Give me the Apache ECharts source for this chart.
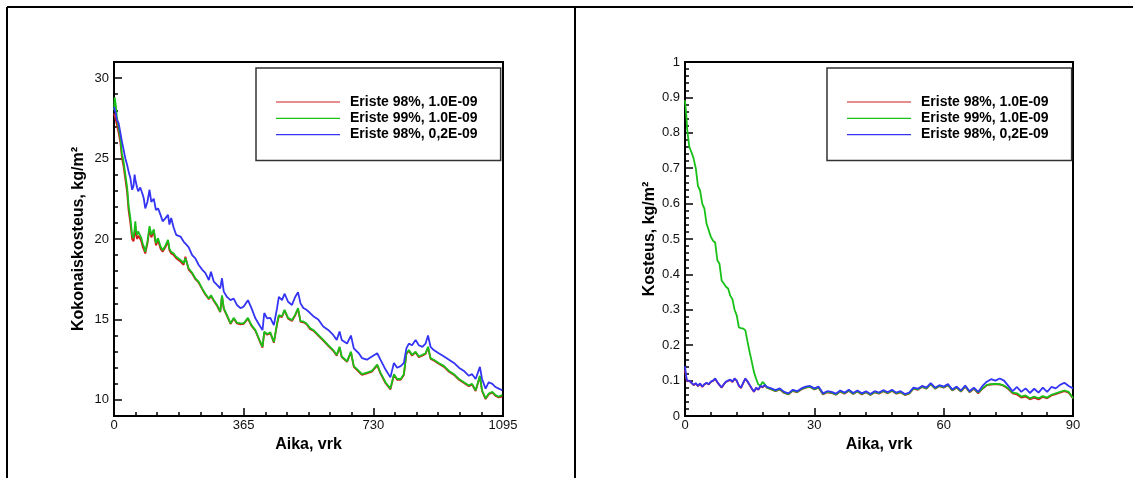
<!DOCTYPE html>
<html>
<head>
<meta charset="utf-8">
<script src="https://cdn.jsdelivr.net/npm/echarts@6/dist/echarts.min.js"></script>
<style>
  html, body { margin: 0; padding: 0; background: #fff; }
  #chart { width: 1133px; height: 478px; }
</style>
</head>
<body>
<div id="chart"></div>
<script>
// ---------------- data ----------------
const seriesNames = ['Eriste 98%, 1.0E-09', 'Eriste 99%, 1.0E-09', 'Eriste 98%, 0,2E-09'];

const leftDays = [0,2,5,8,13,18,22,27,32,37,41,46,51,55,58,60,62,65,68,74,77,81,84,88,94,100,105,112,118,124,131,137,145,152,156,161,168,175,187,196,201,210,220,229,238,248,257,267,273,281,290,299,304,309,318,328,337,346,356,365,377,387,398,412,418,423,431,440,450,459,464,473,480,490,501,510,518,525,533,542,552,561,575,589,603,617,627,635,641,656,667,675,689,698,712,726,741,750,764,778,788,797,807,816,823,830,839,849,858,868,877,884,891,900,914,929,943,957,971,985,999,1008,1018,1030,1036,1046,1055,1065,1074,1083,1093];

const leftBlue = [28.2,28.05,27.8,27.4,27.2,26.6,26.1,25.55,25.0,24.6,24.2,23.8,23.06,23.3,24.0,23.7,23.5,23.2,22.96,23.2,23.0,22.75,22.5,21.9,22.3,23.06,22.3,22.5,21.8,21.9,21.5,21.1,21.3,21.5,20.9,21.3,20.7,20.26,20.15,19.84,19.9,19.5,19.0,18.8,18.4,18.1,17.9,17.45,17.97,17.35,17.15,16.93,17.56,16.73,16.4,16.2,16.3,15.9,15.7,15.8,16.2,15.7,15.07,14.55,14.34,15.4,15.07,15.1,14.65,15.7,16.4,16.2,16.6,16.1,15.9,16.4,16.7,16.0,15.71,15.6,15.4,15.2,15.0,14.56,14.35,14.04,13.73,14.25,13.73,13.5,14.0,13.2,12.9,12.6,12.5,12.7,12.9,12.5,11.9,11.4,12.3,12.0,12.1,12.3,13.2,13.5,13.4,13.73,13.4,13.3,13.5,14.0,13.3,13.1,12.9,12.7,12.5,12.3,12.0,11.8,11.5,11.6,11.3,12.05,11.3,10.7,11.1,11.0,10.8,10.7,10.6];

const leftGreen = [28.0,28.8,28.3,27.6,26.9,26.3,25.35,24.8,24.0,23.2,22.1,21.3,20.26,20.05,20.6,21.1,20.6,20.26,20.47,20.2,20.05,19.7,19.53,19.2,19.84,20.8,20.26,20.6,19.74,20.05,19.53,19.3,19.6,19.95,19.4,19.2,19.1,18.9,18.7,18.5,18.8,18.18,17.9,17.56,17.35,16.93,16.6,16.3,16.5,16.2,15.9,15.48,16.5,15.7,15.27,14.76,15.1,14.8,14.76,14.76,15.1,14.65,14.34,13.6,13.3,14.24,14.1,14.2,13.6,14.76,15.27,15.2,15.6,15.1,14.96,15.3,15.7,14.9,14.88,14.75,14.46,14.35,14.04,13.73,13.4,13.1,12.8,13.3,12.7,12.4,13.0,12.1,11.8,11.6,11.7,11.8,12.2,11.7,11.1,10.7,11.6,11.3,11.3,11.6,12.9,13.1,12.8,13.0,12.7,12.8,12.9,13.3,12.6,12.5,12.3,12.1,11.8,11.6,11.3,11.1,10.9,11.0,10.6,11.5,10.6,10.1,10.4,10.5,10.3,10.2,10.3];

const leftRed = [27.8,27.7,27.4,27.1,26.6,26.0,25.1,24.5,23.7,22.9,21.8,21.0,20.0,19.85,20.3,20.8,20.3,20.0,20.2,20.0,19.85,19.5,19.35,19.1,19.7,20.6,20.1,20.45,19.6,19.9,19.4,19.2,19.5,19.85,19.3,19.1,19.0,18.8,18.6,18.4,18.9,18.1,17.85,17.5,17.3,16.9,16.55,16.25,16.45,16.15,15.85,15.45,16.45,15.65,15.22,14.72,15.05,14.75,14.7,14.72,15.05,14.6,14.3,13.55,13.25,14.2,14.05,14.15,13.55,14.7,15.2,15.15,15.55,15.05,14.9,15.25,15.65,14.85,14.82,14.7,14.4,14.3,14.0,13.68,13.36,13.05,12.75,13.25,12.66,12.36,12.95,12.05,11.75,11.55,11.65,11.75,12.15,11.65,11.05,10.65,11.55,11.25,11.25,11.55,12.85,13.05,12.75,12.95,12.65,12.75,12.85,13.25,12.55,12.45,12.25,12.05,11.75,11.55,11.25,11.05,10.85,10.95,10.55,11.45,10.55,10.05,10.35,10.45,10.25,10.15,10.2];

const rightDays = [0,0.3,0.5,1,1.5,2,2.5,3,3.5,4,4.5,5,5.5,6,6.5,7,7.5,8,8.5,9,9.5,10,10.5,11,11.5,12,12.5,13,13.5,14,14.5,15,15.5,16,16.5,17,17.5,18,18.5,19,20,21,22,23,24,25,26,27,28,29,30,31,32,33,34,35,36,37,38,39,40,41,42,43,44,45,46,47,48,49,50,51,52,53,54,55,56,57,58,59,60,61,62,63,64,65,66,67,68,69,70,71,72,73,74,75,76,77,78,79,80,81,82,83,84,85,86,87,88,89,90];

const rightBlue = [0.14,0.11,0.10,0.10,0.094,0.088,0.093,0.085,0.092,0.083,0.09,0.094,0.09,0.097,0.10,0.106,0.096,0.088,0.081,0.09,0.097,0.10,0.103,0.097,0.106,0.10,0.086,0.08,0.094,0.106,0.098,0.088,0.078,0.069,0.08,0.075,0.085,0.082,0.088,0.082,0.078,0.073,0.078,0.068,0.064,0.074,0.07,0.078,0.083,0.085,0.078,0.083,0.064,0.07,0.068,0.063,0.072,0.066,0.074,0.065,0.072,0.064,0.07,0.062,0.07,0.066,0.073,0.067,0.074,0.066,0.07,0.062,0.066,0.08,0.077,0.085,0.08,0.093,0.08,0.087,0.083,0.09,0.075,0.083,0.072,0.086,0.07,0.08,0.068,0.085,0.097,0.104,0.10,0.106,0.10,0.085,0.07,0.082,0.068,0.078,0.065,0.077,0.066,0.08,0.068,0.082,0.078,0.088,0.094,0.085,0.078];

const rightGreen = [0.892,0.85,0.81,0.76,0.745,0.727,0.70,0.65,0.637,0.60,0.586,0.543,0.525,0.506,0.495,0.49,0.44,0.43,0.383,0.374,0.365,0.36,0.34,0.33,0.30,0.284,0.25,0.248,0.247,0.242,0.21,0.18,0.153,0.124,0.105,0.089,0.086,0.096,0.09,0.08,0.076,0.071,0.076,0.066,0.062,0.072,0.068,0.076,0.081,0.083,0.076,0.081,0.062,0.068,0.066,0.061,0.07,0.064,0.072,0.063,0.07,0.062,0.068,0.06,0.068,0.064,0.071,0.065,0.072,0.064,0.068,0.06,0.064,0.078,0.075,0.083,0.078,0.091,0.078,0.085,0.081,0.088,0.073,0.081,0.07,0.084,0.068,0.078,0.066,0.078,0.088,0.09,0.091,0.09,0.086,0.078,0.066,0.064,0.055,0.058,0.05,0.055,0.05,0.056,0.052,0.06,0.064,0.068,0.072,0.068,0.05];

const rightRed = [0.13,0.105,0.098,0.099,0.093,0.087,0.092,0.084,0.091,0.082,0.089,0.093,0.089,0.096,0.099,0.105,0.095,0.087,0.08,0.089,0.096,0.099,0.102,0.096,0.105,0.099,0.085,0.079,0.093,0.105,0.097,0.087,0.077,0.068,0.079,0.074,0.084,0.081,0.087,0.08,0.075,0.07,0.075,0.065,0.061,0.071,0.067,0.075,0.08,0.082,0.075,0.08,0.061,0.067,0.065,0.06,0.069,0.063,0.071,0.062,0.069,0.061,0.067,0.059,0.067,0.063,0.07,0.064,0.071,0.063,0.067,0.059,0.063,0.077,0.074,0.082,0.077,0.09,0.077,0.084,0.08,0.087,0.072,0.08,0.069,0.083,0.067,0.077,0.064,0.077,0.087,0.089,0.09,0.089,0.085,0.076,0.064,0.061,0.052,0.055,0.047,0.052,0.047,0.054,0.05,0.058,0.062,0.066,0.07,0.066,0.05];

const leftYMajor = [10, 15, 20, 25, 30];
const colors = ['#d21c1c', '#18c018', '#3434f4'];

// ---------------- chart ----------------
const FONT = 'Liberation Sans, Arial, Helvetica, sans-serif';
const chart = echarts.init(document.getElementById('chart'), null, { renderer: 'canvas' });

function pairs(xs, ys) { return xs.map((x, i) => [x, ys[i]]); }

const tickLine = { color: '#000', width: 1.5 };
const axisLineStyle = { show: true, lineStyle: { color: '#000', width: 2 } };
const labelStyle = { color: '#111', fontSize: 13, fontFamily: FONT, formatter: v => String(v) };
const nameStyle = { color: '#000', fontSize: 16, fontWeight: 'bold', fontFamily: FONT };

function legendAt(left) {
  return {
    left: left, top: 68,
    orient: 'vertical',
    data: seriesNames,
    icon: 'rect',
    itemWidth: 64, itemHeight: 1.2, itemGap: 2.3,
    padding: [27, 23, 19, 20],
    backgroundColor: '#fff',
    borderColor: '#333', borderWidth: 1.5,
    textStyle: { color: '#000', fontSize: 14, fontWeight: 'bold', fontFamily: FONT, lineHeight: 14, padding: [0, 0, 0, 5] },
    selectedMode: false
  };
}

const option = {
  animation: false,
  backgroundColor: '#fff',
  color: colors,
  graphic: [
    { type: 'line', shape: { x1: 7, y1: 7, x2: 1133, y2: 7 }, style: { stroke: '#000', lineWidth: 2 } },
    { type: 'line', shape: { x1: 7, y1: 7, x2: 7, y2: 478 }, style: { stroke: '#000', lineWidth: 2 } },
    { type: 'line', shape: { x1: 575, y1: 7, x2: 575, y2: 478 }, style: { stroke: '#000', lineWidth: 2 } }
  ],
  legend: [legendAt(256), legendAt(827)],
  grid: [
    { left: 114, top: 62, width: 389, height: 354, show: true, borderColor: '#000', borderWidth: 2, backgroundColor: 'transparent' },
    { left: 685, top: 62, width: 388, height: 354, show: true, borderColor: '#000', borderWidth: 2, backgroundColor: 'transparent' }
  ],
  xAxis: [
    {
      gridIndex: 0, type: 'value', min: 0, max: 1095, interval: 365,
      axisLine: axisLineStyle,
      axisTick: { inside: true, length: 8, lineStyle: tickLine },
      minorTick: { show: true, splitNumber: 6, length: 4, lineStyle: tickLine },
      splitLine: { show: false }, minorSplitLine: { show: false },
      axisLabel: Object.assign({ margin: 3 }, labelStyle),
      name: 'Aika, vrk', nameLocation: 'middle', nameGap: 15, nameTextStyle: nameStyle
    },
    {
      gridIndex: 1, type: 'value', min: 0, max: 90, interval: 30,
      axisLine: axisLineStyle,
      axisTick: { inside: true, length: 8, lineStyle: tickLine },
      minorTick: { show: true, splitNumber: 5, length: 4, lineStyle: tickLine },
      splitLine: { show: false }, minorSplitLine: { show: false },
      axisLabel: Object.assign({ margin: 3 }, labelStyle),
      name: 'Aika, vrk', nameLocation: 'middle', nameGap: 15, nameTextStyle: nameStyle
    }
  ],
  yAxis: [
    {
      gridIndex: 0, type: 'value', position: 'left', min: 9, max: 31,
      axisLine: axisLineStyle,
      axisTick: { inside: true, length: 8, lineStyle: tickLine, customValues: leftYMajor },
      axisLabel: Object.assign({ margin: 5, customValues: leftYMajor }, labelStyle),
      splitLine: { show: false },
      name: 'Kokonaiskosteus, kg/m²', nameLocation: 'middle', nameGap: 27, nameTextStyle: nameStyle
    },
    {
      gridIndex: 0, type: 'value', position: 'left', offset: 0, min: 9, max: 31, interval: 1,
      axisLine: { show: false },
      axisTick: { inside: true, length: 4, lineStyle: tickLine },
      axisLabel: { show: false },
      splitLine: { show: false }
    },
    {
      gridIndex: 1, type: 'value', position: 'left', min: 0, max: 1, interval: 0.1,
      axisLine: axisLineStyle,
      axisTick: { inside: true, length: 8, lineStyle: tickLine },
      minorTick: { show: true, splitNumber: 5, length: 4, lineStyle: tickLine },
      splitLine: { show: false }, minorSplitLine: { show: false },
      axisLabel: Object.assign({ margin: 5 }, labelStyle),
      name: 'Kosteus, kg/m²', nameLocation: 'middle', nameGap: 27, nameTextStyle: nameStyle
    }
  ],
  series: [
    { name: seriesNames[0], type: 'line', xAxisIndex: 0, yAxisIndex: 0, data: pairs(leftDays, leftRed), showSymbol: false, symbol: 'none', lineStyle: { width: 1.8, color: colors[0] }, itemStyle: { color: colors[0] }, z: 2 },
    { name: seriesNames[1], type: 'line', xAxisIndex: 0, yAxisIndex: 0, data: pairs(leftDays, leftGreen), showSymbol: false, symbol: 'none', lineStyle: { width: 1.8, color: colors[1] }, itemStyle: { color: colors[1] }, z: 3 },
    { name: seriesNames[2], type: 'line', xAxisIndex: 0, yAxisIndex: 0, data: pairs(leftDays, leftBlue), showSymbol: false, symbol: 'none', lineStyle: { width: 1.8, color: colors[2] }, itemStyle: { color: colors[2] }, z: 4 },
    { name: seriesNames[0], type: 'line', xAxisIndex: 1, yAxisIndex: 2, data: pairs(rightDays, rightRed), showSymbol: false, symbol: 'none', lineStyle: { width: 1.8, color: colors[0] }, itemStyle: { color: colors[0] }, z: 2 },
    { name: seriesNames[1], type: 'line', xAxisIndex: 1, yAxisIndex: 2, data: pairs(rightDays, rightGreen), showSymbol: false, symbol: 'none', lineStyle: { width: 1.8, color: colors[1] }, itemStyle: { color: colors[1] }, z: 3 },
    { name: seriesNames[2], type: 'line', xAxisIndex: 1, yAxisIndex: 2, data: pairs(rightDays, rightBlue), showSymbol: false, symbol: 'none', lineStyle: { width: 1.8, color: colors[2] }, itemStyle: { color: colors[2] }, z: 4 }
  ]
};

chart.setOption(option);
</script>
</body>
</html>
